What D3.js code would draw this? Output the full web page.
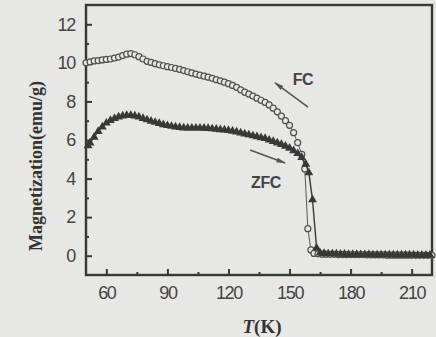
<!DOCTYPE html>
<html>
<head>
<meta charset="utf-8">
<script src="https://cdn.jsdelivr.net/npm/d3@7"></script>
<style>
  html, body { margin: 0; padding: 0; background: #e7e7e5; }
  svg { display: block; }
</style>
</head>
<body>
<svg id="chart" width="436" height="337"></svg>
<script>
// FC curve (open circles)
const fcTemp = [50, 52, 54, 56, 58, 60, 62, 64, 66, 68, 70, 72, 74, 76, 78, 80, 82, 84, 86, 88,
  90, 92, 94, 96, 98, 100, 102, 104, 106, 108, 110, 112, 114, 116, 118, 120, 122, 124, 126, 128,
  130, 132, 134, 136, 138, 140, 142, 144, 146, 148, 150, 152, 154, 156, 157.5, 159, 160.5,
  162, 164, 166, 168, 170, 172, 174, 176, 178, 180, 182, 184, 186, 188, 190, 192, 194, 196, 198,
  200, 202, 204, 206, 208, 210, 212, 214, 216, 218, 220];
const fcMag = [10.0, 10.05, 10.1, 10.12, 10.15, 10.18, 10.2, 10.25, 10.3, 10.38, 10.45, 10.48, 10.42, 10.32, 10.2, 10.08, 10.02, 9.96, 9.9, 9.85,
  9.8, 9.76, 9.71, 9.66, 9.6, 9.54, 9.48, 9.42, 9.36, 9.31, 9.26, 9.2, 9.13, 9.07, 9.0, 8.92, 8.83, 8.73, 8.6, 8.48,
  8.38, 8.28, 8.17, 8.06, 7.95, 7.82, 7.65, 7.46, 7.24, 7.0, 6.76, 6.38, 5.86, 5.25, 4.5, 1.4, 0.3,
  0.12, 0.1, 0.08, 0.08, 0.07, 0.07, 0.06, 0.06, 0.06, 0.05, 0.05, 0.05, 0.05, 0.04, 0.04, 0.04, 0.04, 0.04,
  0.03, 0.03, 0.03, 0.03, 0.03, 0.03, 0.02, 0.02, 0.02, 0.02, 0.02, 0.02];

// ZFC curve (filled triangles)
const zfcTemp = [51, 52, 54, 56, 58, 60, 62, 64, 66, 68, 70, 72, 74, 76, 78, 80, 82, 84, 86, 88,
  90, 92, 94, 96, 98, 100, 102, 104, 106, 108, 110, 112, 114, 116, 118, 120, 122, 124, 126, 128,
  130, 132, 134, 136, 138, 140, 142, 144, 146, 148, 150, 152, 154, 156, 158, 159.5, 161.3, 163.3,
  165, 167, 169, 171, 173, 175, 177, 179, 181, 183, 185, 187, 189, 191, 193, 195, 197, 199,
  201, 203, 205, 207, 209, 211, 213, 215, 217, 219];
const zfcMag = [5.7, 5.85, 6.15, 6.45, 6.68, 6.88, 7.02, 7.12, 7.2, 7.25, 7.28, 7.28, 7.25, 7.2, 7.12, 7.05, 6.98, 6.92, 6.86, 6.8,
  6.75, 6.71, 6.68, 6.65, 6.63, 6.62, 6.62, 6.62, 6.62, 6.61, 6.6, 6.58, 6.56, 6.54, 6.52, 6.5, 6.46, 6.42, 6.37, 6.32,
  6.27, 6.22, 6.17, 6.12, 6.08, 6.0, 5.93, 5.85, 5.77, 5.68, 5.58, 5.45, 5.3, 5.1, 4.75, 4.3, 2.9, 0.4,
  0.15, 0.12, 0.1, 0.1, 0.09, 0.08, 0.08, 0.07, 0.07, 0.07, 0.06, 0.06, 0.06, 0.05, 0.05, 0.05,
  0.05, 0.05, 0.04, 0.04, 0.04, 0.04, 0.04, 0.04, 0.03, 0.03, 0.03, 0.03];

const xTicks = [60, 90, 120, 150, 180, 210];
const xMinorTicks = [75, 105, 135, 165, 195];
const yTicks = [0, 2, 4, 6, 8, 10, 12];
const yMinorTicks = [1, 3, 5, 7, 9, 11];

const ink = '#383838';
const bg = '#e7e7e5';

const svg = d3.select('#chart');

const x = d3.scaleLinear().domain([50, 220]).range([86, 432]);
const y = d3.scaleLinear().domain([-1, 13]).range([275, 5]);

// Axes - ticks point inward
const tickFont = (g) => g.selectAll('text')
  .attr('fill', '#444')
  .style('font-family', '"Liberation Sans", Arial, sans-serif')
  .style('font-size', '18px')
  .style('letter-spacing', '-1.3px');

svg.append('g')
  .attr('transform', `translate(0, ${y.range()[0]})`)
  .call(d3.axisBottom(x).tickValues(xTicks).tickSizeInner(-6).tickSizeOuter(0).tickPadding(11))
  .call(g => g.select('.domain').remove())
  .call(g => g.selectAll('line').attr('stroke', ink).attr('stroke-width', 2))
  .call(tickFont);

svg.append('g')
  .attr('transform', `translate(0, ${y.range()[0]})`)
  .call(d3.axisBottom(x).tickValues(xMinorTicks).tickSizeInner(-3).tickSizeOuter(0).tickFormat(''))
  .call(g => g.select('.domain').remove())
  .call(g => g.selectAll('line').attr('stroke', ink).attr('stroke-width', 2));

svg.append('g')
  .attr('transform', `translate(${x.range()[0]}, 0)`)
  .call(d3.axisLeft(y).tickValues(yTicks).tickSizeInner(-6).tickSizeOuter(0).tickPadding(11))
  .call(g => g.select('.domain').remove())
  .call(g => g.selectAll('line').attr('stroke', ink).attr('stroke-width', 2))
  .call(tickFont);

svg.append('g')
  .attr('transform', `translate(${x.range()[0]}, 0)`)
  .call(d3.axisLeft(y).tickValues(yMinorTicks).tickSizeInner(-3).tickSizeOuter(0).tickFormat(''))
  .call(g => g.select('.domain').remove())
  .call(g => g.selectAll('line').attr('stroke', ink).attr('stroke-width', 2));

// frame
svg.append('rect')
  .attr('x', x.range()[0])
  .attr('y', y.range()[1])
  .attr('width', x.range()[1] - x.range()[0])
  .attr('height', y.range()[0] - y.range()[1])
  .attr('fill', 'none')
  .attr('stroke', ink)
  .attr('stroke-width', 2.4);

// series
const fc = fcTemp.map((t, i) => ({ t, m: fcMag[i] }));
const zfc = zfcTemp.map((t, i) => ({ t, m: zfcMag[i] }));

const line = d3.line().x(d => x(d.t)).y(d => y(d.m));

svg.append('path')
  .datum(fc)
  .attr('d', line)
  .attr('fill', 'none')
  .attr('stroke', '#555')
  .attr('stroke-width', 1);

svg.append('g')
  .selectAll('circle')
  .data(fc)
  .join('circle')
  .attr('cx', d => x(d.t))
  .attr('cy', d => y(d.m))
  .attr('r', 3)
  .attr('fill', bg)
  .attr('stroke', '#505050')
  .attr('stroke-width', 1.2);

svg.append('path')
  .datum(zfc)
  .attr('d', line)
  .attr('fill', 'none')
  .attr('stroke', ink)
  .attr('stroke-width', 1.4);

svg.append('g')
  .selectAll('path')
  .data(zfc)
  .join('path')
  .attr('transform', d => `translate(${x(d.t)}, ${y(d.m)})`)
  .attr('d', d3.symbol(d3.symbolTriangle).size(34))
  .attr('fill', ink);

// annotations
svg.append('defs').append('marker')
  .attr('id', 'arrow')
  .attr('viewBox', '0 0 10 10')
  .attr('refX', 9)
  .attr('refY', 5)
  .attr('markerWidth', 6)
  .attr('markerHeight', 6)
  .attr('orient', 'auto')
  .append('path')
  .attr('d', 'M0,2.5 L10,5 L0,7.5 Z')
  .attr('fill', '#555');

const arrows = [
  { from: [159.1, 7.71], to: [142.9, 8.96] },
  { from: [130.6, 5.48], to: [147.8, 4.81] }
];
svg.append('g')
  .selectAll('line')
  .data(arrows)
  .join('line')
  .attr('x1', d => x(d.from[0]))
  .attr('y1', d => y(d.from[1]))
  .attr('x2', d => x(d.to[0]))
  .attr('y2', d => y(d.to[1]))
  .attr('stroke', '#555')
  .attr('stroke-width', 1.6)
  .attr('marker-end', 'url(#arrow)');

const labels = [
  { text: 'FC', t: 156.6, m: 8.85 },
  { text: 'ZFC', t: 138.4, m: 3.5 }
];
svg.append('g')
  .selectAll('text')
  .data(labels)
  .join('text')
  .attr('x', d => x(d.t))
  .attr('y', d => y(d.m))
  .attr('text-anchor', 'middle')
  .attr('fill', '#444')
  .style('font-family', '"Liberation Sans", Arial, sans-serif')
  .style('font-size', '16px')
  .style('font-weight', 'bold')
  .style('letter-spacing', '-0.5px')
  .text(d => d.text);

// axis titles
svg.append('text')
  .attr('transform', `translate(42, 166) rotate(-90)`)
  .attr('text-anchor', 'middle')
  .attr('fill', '#333')
  .style('font-family', '"Liberation Serif", "Times New Roman", serif')
  .style('font-weight', 'bold')
  .style('font-size', '18px')
  .text('Magnetization(emu/g)');

const xTitle = svg.append('text')
  .attr('x', 262)
  .attr('y', 333)
  .attr('text-anchor', 'middle')
  .attr('fill', '#333')
  .style('font-family', '"Liberation Serif", "Times New Roman", serif')
  .style('font-weight', 'bold')
  .style('font-size', '19px');
xTitle.append('tspan').style('font-style', 'italic').text('T');
xTitle.append('tspan').text('(K)');
</script>
</body>
</html>
